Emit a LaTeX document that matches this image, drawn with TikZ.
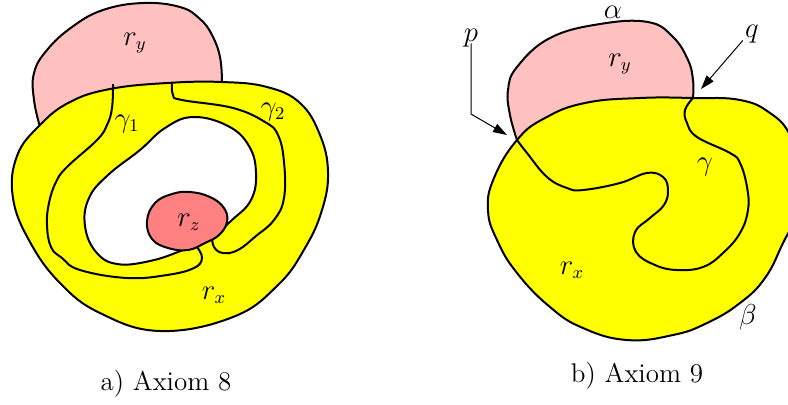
\documentclass[tikz,border=0pt]{standalone}
\usetikzlibrary{arrows.meta}
\definecolor{pinkA}{HTML}{FFC0C0}
\definecolor{pinkB}{HTML}{FF8080}
\definecolor{yel}{HTML}{FFFF00}
\begin{document}
\begin{tikzpicture}[x=0.5pt,y=-0.5pt,
  region/.style={draw=black,line width=1pt,line join=round},
  curve/.style={draw=black,line width=1pt},
  lbl/.style={font=\fontsize{13.5}{16}\selectfont, inner sep=0pt},
  pointer/.style={draw=black, line width=0.5pt, -{Triangle[length=7pt,width=4.5pt]}}]
\useasboundingbox (0,0) rectangle (788,404);

% ---------------- a) Axiom 8 ----------------
\path[region,fill=pinkA] plot[smooth,tension=0.7] coordinates {(40,127) (34,100) (34,73) (47,50) (72,27) (103,10) (143,3) (180,7) (200,19) (212,35) (220,57) (222,82)} -- cycle;
\path[region,fill=yel] plot[smooth cycle,tension=0.7] coordinates {(40,125) (70,102) (110,89) (167,83) (222,82) (267,87) (300,103) (320,135) (328,172) (322,210) (305,248) (278,285) (233,317) (160,331) (100,313) (60,283) (30,242) (13,198) (17,156)};
\path[region,fill=white] plot[smooth cycle,tension=0.7] coordinates {(193,117) (228,126) (249,146) (256,173) (251,200) (232,220) (210,238) (183,250) (150,261) (117,264) (96,252) (85,226) (89,198) (108,175) (140,150) (165,128)};
\draw[curve] plot[smooth,tension=0.7] coordinates {(113,84) (112,108) (107,125) (97,140) (67,167) (56,182) (49,203) (47,225) (51,247) (62,258) (80,270) (127,278) (167,275) (194,268) (202,258) (197,247)};
\draw[curve] plot[smooth,tension=0.7] coordinates {(172,82) (173,95) (182,100) (233,108) (265,122) (278,135) (284,162) (284,198) (274,220) (256,236) (238,250) (223,253) (214,247) (212,236)};
\path[region,fill=pinkB] plot[smooth cycle,tension=0.7] coordinates {(147,221) (155,203) (172,194) (190,192) (210,197) (224,208) (227,222) (219,235) (205,243) (188,250) (168,248) (152,239)};

\node[lbl] (ryA) at (135,43) {$r_y$};
\node[lbl] (g1) at (127,124) {$\gamma_1$};
\node[lbl] (g2) at (273,112) {$\gamma_2$};
\node[lbl] (rz) at (189,222) {$r_z$};
\node[lbl] (rxA) at (214,295) {$r_x$};
\node[lbl] (capA) at (166,384) {a) Axiom 8};

% ---------------- b) Axiom 9 ----------------
\path[region,fill=pinkA] plot[smooth,tension=0.7] coordinates {(517,140) (510,115) (508,90) (517,67) (550,38) (600,24) (648,22) (673,37) (688,60) (693,80) (693,98)} -- cycle;
\path[region,fill=yel] plot[smooth cycle,tension=0.75] coordinates {(517,140) (545,118) (585,103) (640,98) (693,98) (740,100) (770,113) (790,135) (800,170) (798,210) (783,243) (765,278) (740,303) (707,323) (673,335) (627,340) (583,328) (550,307) (517,273) (497,240) (488,210) (494,178)};
\draw[curve] plot[smooth,tension=0.7] coordinates {(517,140) (527,153) (547,177) (567,188) (583,190) (620,183) (647,173) (663,177) (668,190) (664,205) (650,218) (635,232) (636,252) (655,265) (677,270) (703,267) (723,253) (740,233) (748,210) (747,187) (740,163) (730,153) (697,137) (687,123) (685,110) (693,98)};

\node[lbl] (al) at (613,12) {$\alpha$};
\node[lbl] (ryB) at (620,64) {$r_y$};
\node[lbl] (gm) at (705,167) {$\gamma$};
\node[lbl] (rxB) at (572,270) {$r_x$};
\node[lbl] (be) at (748,317) {$\beta$};
\node[lbl] (p) at (471,38) {$p$};
\node[lbl] (q) at (752,34) {$q$};
\node[lbl] (capB) at (637,376) {b) Axiom 9};

\coordinate (pbend) at (471,114);
\coordinate (ptip) at (507,135);
\coordinate (qtip) at (701,89);
\draw[pointer] (p.south) ++(0,-4) -- (pbend) -- (ptip);
\draw[pointer] (q.south west) ++(-2,-3) -- (qtip);
\end{tikzpicture}
\end{document}
